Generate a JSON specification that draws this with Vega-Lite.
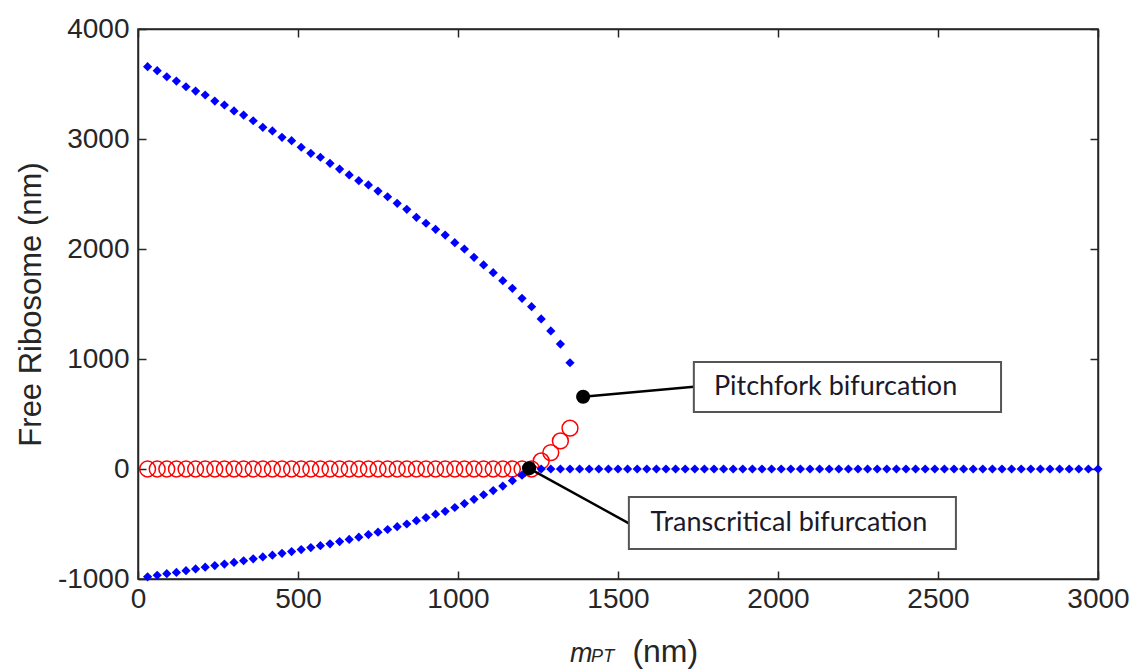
{
  "$schema": "https://vega.github.io/schema/vega-lite/v6.json",
  "width": 960,
  "height": 550,
  "autosize": {"type": "none"},
  "padding": {"left": 138, "top": 29, "right": 33, "bottom": 90},
  "background": "white",
  "config": {
    "view": {"stroke": "#262626", "strokeWidth": 1.5},
    "axis": {
      "labelFont": "Liberation Sans",
      "labelFontSize": 28,
      "labelColor": "#262626",
      "labelFlush": false,
      "labelOverlap": false,
      "titleFont": "Liberation Sans",
      "titleFontSize": 31,
      "titleFontWeight": "normal",
      "titleColor": "#262626",
      "domainColor": "#262626",
      "domainWidth": 1.5,
      "tickColor": "#262626",
      "tickWidth": 1.5,
      "tickSize": -8,
      "grid": false,
      "labelExpr": "'' + datum.value"
    }
  },
  "datasets": {
    "stable": [
      {"m": 30, "r": 3657}, {"m": 60, "r": 3621}, {"m": 90, "r": 3566}, {"m": 120, "r": 3527}, {"m": 150, "r": 3475},
      {"m": 180, "r": 3436}, {"m": 210, "r": 3400}, {"m": 240, "r": 3345}, {"m": 270, "r": 3309}, {"m": 300, "r": 3255},
      {"m": 330, "r": 3218}, {"m": 360, "r": 3166}, {"m": 390, "r": 3106}, {"m": 420, "r": 3073}, {"m": 450, "r": 3015},
      {"m": 480, "r": 2985}, {"m": 510, "r": 2925}, {"m": 540, "r": 2870}, {"m": 570, "r": 2834}, {"m": 600, "r": 2779},
      {"m": 630, "r": 2727}, {"m": 660, "r": 2673}, {"m": 690, "r": 2621}, {"m": 720, "r": 2582}, {"m": 750, "r": 2527},
      {"m": 780, "r": 2475}, {"m": 810, "r": 2415}, {"m": 840, "r": 2361}, {"m": 870, "r": 2288}, {"m": 900, "r": 2234},
      {"m": 930, "r": 2179}, {"m": 960, "r": 2127}, {"m": 990, "r": 2057}, {"m": 1020, "r": 2000}, {"m": 1050, "r": 1924},
      {"m": 1080, "r": 1855}, {"m": 1110, "r": 1785}, {"m": 1140, "r": 1712}, {"m": 1170, "r": 1643}, {"m": 1200, "r": 1552},
      {"m": 1230, "r": 1476}, {"m": 1260, "r": 1364}, {"m": 1290, "r": 1255}, {"m": 1320, "r": 1136}, {"m": 1350, "r": 966},
      {"m": 30, "r": -980}, {"m": 60, "r": -966}, {"m": 90, "r": -952}, {"m": 120, "r": -940}, {"m": 150, "r": -924},
      {"m": 180, "r": -908}, {"m": 210, "r": -893}, {"m": 240, "r": -878}, {"m": 270, "r": -864}, {"m": 300, "r": -849},
      {"m": 330, "r": -834}, {"m": 360, "r": -817}, {"m": 390, "r": -799}, {"m": 420, "r": -783}, {"m": 450, "r": -767},
      {"m": 480, "r": -751}, {"m": 510, "r": -732}, {"m": 540, "r": -714}, {"m": 570, "r": -697}, {"m": 600, "r": -680},
      {"m": 630, "r": -660}, {"m": 660, "r": -640}, {"m": 690, "r": -620}, {"m": 720, "r": -596}, {"m": 750, "r": -574},
      {"m": 780, "r": -550}, {"m": 810, "r": -524}, {"m": 840, "r": -500}, {"m": 870, "r": -470}, {"m": 900, "r": -442},
      {"m": 930, "r": -411}, {"m": 960, "r": -385}, {"m": 990, "r": -350}, {"m": 1020, "r": -314}, {"m": 1050, "r": -276},
      {"m": 1080, "r": -234}, {"m": 1110, "r": -196}, {"m": 1140, "r": -155}, {"m": 1170, "r": -106}, {"m": 1200, "r": -56},
      {"m": 1230, "r": 0}, {"m": 1260, "r": 0}, {"m": 1290, "r": 0}, {"m": 1320, "r": 0}, {"m": 1350, "r": 0},
      {"m": 1380, "r": 0}, {"m": 1410, "r": 0}, {"m": 1440, "r": 0}, {"m": 1470, "r": 0}, {"m": 1500, "r": 0},
      {"m": 1530, "r": 0}, {"m": 1560, "r": 0}, {"m": 1590, "r": 0}, {"m": 1620, "r": 0}, {"m": 1650, "r": 0},
      {"m": 1680, "r": 0}, {"m": 1710, "r": 0}, {"m": 1740, "r": 0}, {"m": 1770, "r": 0}, {"m": 1800, "r": 0},
      {"m": 1830, "r": 0}, {"m": 1860, "r": 0}, {"m": 1890, "r": 0}, {"m": 1920, "r": 0}, {"m": 1950, "r": 0},
      {"m": 1980, "r": 0}, {"m": 2010, "r": 0}, {"m": 2040, "r": 0}, {"m": 2070, "r": 0}, {"m": 2100, "r": 0},
      {"m": 2130, "r": 0}, {"m": 2160, "r": 0}, {"m": 2190, "r": 0}, {"m": 2220, "r": 0}, {"m": 2250, "r": 0},
      {"m": 2280, "r": 0}, {"m": 2310, "r": 0}, {"m": 2340, "r": 0}, {"m": 2370, "r": 0}, {"m": 2400, "r": 0},
      {"m": 2430, "r": 0}, {"m": 2460, "r": 0}, {"m": 2490, "r": 0}, {"m": 2520, "r": 0}, {"m": 2550, "r": 0},
      {"m": 2580, "r": 0}, {"m": 2610, "r": 0}, {"m": 2640, "r": 0}, {"m": 2670, "r": 0}, {"m": 2700, "r": 0},
      {"m": 2730, "r": 0}, {"m": 2760, "r": 0}, {"m": 2790, "r": 0}, {"m": 2820, "r": 0}, {"m": 2850, "r": 0},
      {"m": 2880, "r": 0}, {"m": 2910, "r": 0}, {"m": 2940, "r": 0}, {"m": 2970, "r": 0}, {"m": 3000, "r": 0}
    ],
    "unstable": [
      {"m": 30, "r": 0}, {"m": 60, "r": 0}, {"m": 90, "r": 0}, {"m": 120, "r": 0}, {"m": 150, "r": 0},
      {"m": 180, "r": 0}, {"m": 210, "r": 0}, {"m": 240, "r": 0}, {"m": 270, "r": 0}, {"m": 300, "r": 0},
      {"m": 330, "r": 0}, {"m": 360, "r": 0}, {"m": 390, "r": 0}, {"m": 420, "r": 0}, {"m": 450, "r": 0},
      {"m": 480, "r": 0}, {"m": 510, "r": 0}, {"m": 540, "r": 0}, {"m": 570, "r": 0}, {"m": 600, "r": 0},
      {"m": 630, "r": 0}, {"m": 660, "r": 0}, {"m": 690, "r": 0}, {"m": 720, "r": 0}, {"m": 750, "r": 0},
      {"m": 780, "r": 0}, {"m": 810, "r": 0}, {"m": 840, "r": 0}, {"m": 870, "r": 0}, {"m": 900, "r": 0},
      {"m": 930, "r": 0}, {"m": 960, "r": 0}, {"m": 990, "r": 0}, {"m": 1020, "r": 0}, {"m": 1050, "r": 0},
      {"m": 1080, "r": 0}, {"m": 1110, "r": 0}, {"m": 1140, "r": 0}, {"m": 1170, "r": 0}, {"m": 1200, "r": 0},
      {"m": 1230, "r": 0}, {"m": 1260, "r": 73}, {"m": 1290, "r": 149}, {"m": 1320, "r": 255}, {"m": 1350, "r": 371}
    ],
    "bif": [
      {"m": 1391, "r": 657},
      {"m": 1222, "r": 6}
    ],
    "leaders": [
      {"m": 1391, "r": 657, "m2": 1737, "r2": 748},
      {"m": 1222, "r": 6, "m2": 1534, "r2": -494}
    ],
    "boxes": [
      {"m": 1737, "m2": 2697, "r": 973, "r2": 518, "label": "Pitchfork bifurcation", "cm": 2180, "cr": 745},
      {"m": 1534, "m2": 2556, "r": -255, "r2": -727, "label": "Transcritical bifurcation", "cm": 2034, "cr": -491}
    ],
    "xtitle": [
      {"m": 1350, "r": -1755, "t": "m", "part": "main"},
      {"m": 1416, "r": -1755, "t": "PT", "part": "sub"},
      {"m": 1545, "r": -1755, "t": "(nm)", "part": "unit"}
    ]
  },
  "layer": [
    {
      "data": {"name": "unstable"},
      "mark": {"type": "point", "shape": "circle", "filled": false, "stroke": "#ff0000", "strokeWidth": 1.5, "opacity": 1, "size": 250},
      "encoding": {
        "x": {"field": "m", "type": "quantitative", "scale": {"domain": [0, 3000], "nice": false},
              "axis": {"orient": "bottom", "values": [0, 500, 1000, 1500, 2000, 2500, 3000], "title": null, "labelPadding": 14}},
        "y": {"field": "r", "type": "quantitative", "scale": {"domain": [-1000, 4000], "nice": false},
              "axis": {"orient": "left", "values": [-1000, 0, 1000, 2000, 3000, 4000], "title": "Free Ribosome (nm)", "titlePadding": 10, "labelPadding": 17}}
      }
    },
    {
      "data": {"name": "stable"},
      "mark": {"type": "point", "shape": "diamond", "filled": true, "color": "#0000ff", "opacity": 1, "size": 85},
      "encoding": {
        "x": {"field": "m", "type": "quantitative", "axis": null},
        "y": {"field": "r", "type": "quantitative", "axis": null}
      }
    },
    {
      "data": {"name": "stable"},
      "mark": {"type": "point", "opacity": 0},
      "encoding": {
        "x": {"field": "m", "type": "quantitative",
              "axis": {"orient": "top", "values": [0, 500, 1000, 1500, 2000, 2500, 3000], "labels": false, "title": null}},
        "y": {"field": "r", "type": "quantitative",
              "axis": {"orient": "right", "values": [-1000, 0, 1000, 2000, 3000, 4000], "labels": false, "title": null}}
      }
    },
    {
      "data": {"name": "leaders"},
      "mark": {"type": "rule", "color": "#000000", "strokeWidth": 2.4},
      "encoding": {
        "x": {"field": "m", "type": "quantitative", "axis": null},
        "y": {"field": "r", "type": "quantitative", "axis": null},
        "x2": {"field": "m2"},
        "y2": {"field": "r2"}
      }
    },
    {
      "data": {"name": "bif"},
      "mark": {"type": "point", "shape": "circle", "filled": true, "color": "#000000", "opacity": 1, "size": 200},
      "encoding": {
        "x": {"field": "m", "type": "quantitative", "axis": null},
        "y": {"field": "r", "type": "quantitative", "axis": null}
      }
    },
    {
      "data": {"name": "boxes"},
      "mark": {"type": "rect", "fill": "white", "stroke": "#555555", "strokeWidth": 2},
      "encoding": {
        "x": {"field": "m", "type": "quantitative", "axis": null},
        "x2": {"field": "m2"},
        "y": {"field": "r", "type": "quantitative", "axis": null},
        "y2": {"field": "r2"}
      }
    },
    {
      "data": {"name": "boxes"},
      "mark": {"type": "text", "font": "Lato", "fontSize": 27, "color": "#1a1a2a", "align": "center", "baseline": "middle"},
      "encoding": {
        "x": {"field": "cm", "type": "quantitative", "axis": null},
        "y": {"field": "cr", "type": "quantitative", "axis": null},
        "text": {"field": "label"}
      }
    },
    {
      "data": {"name": "xtitle"},
      "transform": [{"filter": "datum.part === 'main'"}],
      "mark": {"type": "text", "font": "Liberation Sans", "fontSize": 27, "fontStyle": "italic", "color": "#262626", "align": "left", "baseline": "alphabetic"},
      "encoding": {
        "x": {"field": "m", "type": "quantitative", "axis": null},
        "y": {"field": "r", "type": "quantitative", "axis": null},
        "text": {"field": "t"}
      }
    },
    {
      "data": {"name": "xtitle"},
      "transform": [{"filter": "datum.part === 'sub'"}],
      "mark": {"type": "text", "font": "Liberation Sans", "fontSize": 18, "fontStyle": "italic", "color": "#262626", "align": "left", "baseline": "alphabetic"},
      "encoding": {
        "x": {"field": "m", "type": "quantitative", "axis": null},
        "y": {"field": "r", "type": "quantitative", "axis": null},
        "text": {"field": "t"}
      }
    },
    {
      "data": {"name": "xtitle"},
      "transform": [{"filter": "datum.part === 'unit'"}],
      "mark": {"type": "text", "font": "Liberation Sans", "fontSize": 32, "color": "#262626", "align": "left", "baseline": "alphabetic"},
      "encoding": {
        "x": {"field": "m", "type": "quantitative", "axis": null},
        "y": {"field": "r", "type": "quantitative", "axis": null},
        "text": {"field": "t"}
      }
    }
  ],
  "resolve": {"axis": {"x": "independent", "y": "independent"}}
}
